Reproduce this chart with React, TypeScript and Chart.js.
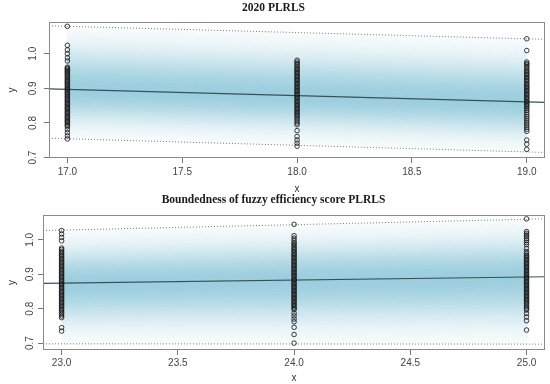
import React, { useEffect, useRef } from "react";
import { Chart, registerables } from "chart.js";

Chart.register(...registerables);

// ---------- data ----------
const topTitle = "2020 PLRLS";
const bottomTitle = "Boundedness of fuzzy efficiency score PLRLS";

const topColumnsX = [17, 18, 19];
const topCol17 = [
  1.079, 1.024, 1.011, 1.0, 0.988, 0.979,
  0.961, 0.958, 0.955, 0.951, 0.948, 0.944, 0.941, 0.937, 0.933, 0.93, 0.926, 0.922,
  0.919, 0.915, 0.912, 0.908, 0.904, 0.9, 0.897, 0.893, 0.889, 0.886, 0.882, 0.878,
  0.875, 0.871, 0.867, 0.864, 0.86, 0.856, 0.853, 0.849, 0.845, 0.842, 0.838, 0.834,
  0.83, 0.827, 0.823, 0.819, 0.816, 0.812, 0.808, 0.805, 0.801, 0.797, 0.793, 0.789,
  0.781, 0.772, 0.763, 0.754,
];
const topCol18 = [
  0.981, 0.976, 0.971, 0.967, 0.962, 0.958, 0.954, 0.95, 0.946, 0.942, 0.938, 0.934,
  0.93, 0.926, 0.922, 0.918, 0.914, 0.91, 0.906, 0.902, 0.898, 0.894, 0.89, 0.886,
  0.882, 0.878, 0.874, 0.87, 0.866, 0.862, 0.858, 0.854, 0.85, 0.846, 0.842, 0.838,
  0.834, 0.83, 0.826, 0.822, 0.817, 0.812, 0.806, 0.8, 0.795,
  0.778, 0.761, 0.751, 0.742, 0.733,
];
const topCol19 = [
  1.043, 1.009,
  0.976, 0.972, 0.968, 0.963, 0.958, 0.953, 0.948, 0.944, 0.94, 0.936, 0.931, 0.927,
  0.923, 0.919, 0.914, 0.91, 0.906, 0.902, 0.898, 0.894, 0.89, 0.886, 0.882, 0.878,
  0.874, 0.87, 0.866, 0.862, 0.858, 0.854, 0.85, 0.846, 0.841, 0.836, 0.83, 0.824,
  0.818, 0.812, 0.806, 0.8, 0.794, 0.788, 0.782, 0.776,
  0.751, 0.739, 0.724,
];
const topLineX = [16.92, 19.08];
const topFit = [0.8984, 0.8596];
const topUpper = [1.0805, 1.0415];
const topLower = [0.756, 0.715];
const topXRange = [16.92, 19.08];
const topYRange = [0.699, 1.092];

const bottomColumnsX = [23, 24, 25];
const bottomCol23 = [
  1.027, 1.017, 1.007, 0.997,
  0.976, 0.972, 0.967, 0.963, 0.958, 0.954, 0.95, 0.946, 0.942, 0.938, 0.934, 0.93,
  0.926, 0.922, 0.918, 0.914, 0.91, 0.906, 0.902, 0.898, 0.894, 0.89, 0.886, 0.882,
  0.878, 0.874, 0.87, 0.866, 0.862, 0.858, 0.854, 0.85, 0.846, 0.842, 0.838, 0.834,
  0.83, 0.826, 0.822, 0.818, 0.814, 0.81, 0.806, 0.802, 0.798, 0.794, 0.789, 0.784,
  0.779, 0.774, 0.745, 0.735,
];
const bottomCol24 = [
  1.045, 1.012, 1.005, 0.998,
  0.992, 0.988, 0.983, 0.978, 0.974, 0.97, 0.965, 0.961, 0.957, 0.953, 0.949, 0.945,
  0.941, 0.937, 0.933, 0.929, 0.925, 0.921, 0.917, 0.913, 0.909, 0.905, 0.901, 0.897,
  0.893, 0.889, 0.885, 0.881, 0.877, 0.873, 0.869, 0.865, 0.861, 0.857, 0.853, 0.849,
  0.845, 0.841, 0.837, 0.833, 0.829, 0.825, 0.821, 0.817, 0.813, 0.809, 0.805, 0.801,
  0.797, 0.787, 0.779, 0.77, 0.762, 0.746, 0.725, 0.7,
];
const bottomCol25 = [
  1.061, 1.024, 1.019, 1.014, 1.009, 1.003, 0.998, 0.992, 0.986, 0.975, 0.966, 0.96,
  0.955, 0.951, 0.947, 0.943, 0.939, 0.935, 0.931, 0.927, 0.923, 0.919, 0.915, 0.911,
  0.907, 0.903, 0.899, 0.895, 0.891, 0.887, 0.883, 0.879, 0.875, 0.871, 0.867, 0.863,
  0.859, 0.855, 0.851, 0.847, 0.843, 0.839, 0.835, 0.831, 0.827, 0.823, 0.819, 0.815,
  0.81, 0.805, 0.8, 0.796, 0.786, 0.776, 0.765, 0.738,
];
const bottomLineX = [22.92, 25.08];
const bottomFit = [0.8733, 0.8927];
const bottomUpper = [1.027, 1.061];
const bottomLower = [0.698, 0.697];
const bottomXRange = [22.92, 25.08];
const bottomYRange = [0.68, 1.0727];

// ---------- styling ----------
const SANS = "'Liberation Sans', Arial, sans-serif";
const SERIF = "'Liberation Serif', 'Times New Roman', serif";
const BAND_RGB = "156,206,222";

const bandPlugin = {
  id: "band",
  beforeDatasetsDraw(chart: any, _args: any, opts: any) {
    const { ctx, chartArea } = chart;
    const xs = chart.scales.x;
    const ys = chart.scales.y;
    const { lineX, fit, upper, lower, from, to } = opts;
    const interp = (arr: number[], v: number) =>
      arr[0] + ((arr[1] - arr[0]) * (v - lineX[0])) / (lineX[1] - lineX[0]);
    const p0 = Math.round(xs.getPixelForValue(from));
    const p1 = Math.round(xs.getPixelForValue(to));
    ctx.save();
    ctx.beginPath();
    ctx.rect(chartArea.left, chartArea.top, chartArea.width, chartArea.height);
    ctx.clip();
    for (let px = p0; px < p1; px += 2) {
      const v = xs.getValueForPixel(px + 1);
      const yf = ys.getPixelForValue(interp(fit, v));
      const yu = ys.getPixelForValue(interp(upper, v));
      const yl = ys.getPixelForValue(interp(lower, v));
      const g = ctx.createLinearGradient(0, yu, 0, yl);
      const mid = (yf - yu) / (yl - yu);
      const N = 14;
      for (let i = 0; i <= N; i++) {
        const t = i / N;
        const a = Math.exp(-2.6 * (1 - t) * (1 - t));
        g.addColorStop(mid * t, `rgba(${BAND_RGB},${a.toFixed(3)})`);
      }
      for (let i = 1; i <= N; i++) {
        const t = i / N;
        const a = Math.exp(-2.6 * t * t);
        g.addColorStop(mid + (1 - mid) * t, `rgba(${BAND_RGB},${a.toFixed(3)})`);
      }
      ctx.fillStyle = g;
      ctx.fillRect(px, yu, 2, yl - yu);
    }
    ctx.restore();
  },
};

const boxPlugin = {
  id: "box",
  afterDraw(chart: any) {
    const { ctx, chartArea } = chart;
    ctx.save();
    ctx.strokeStyle = "#8a8a8a";
    ctx.lineWidth = 1;
    ctx.strokeRect(
      Math.round(chartArea.left) + 0.5,
      Math.round(chartArea.top) + 0.5,
      Math.round(chartArea.width) - 1,
      Math.round(chartArea.height) - 1
    );
    ctx.restore();
  },
};

type Spec = {
  title: string;
  columnsX: number[];
  columns: number[][];
  lineX: number[];
  fit: number[];
  upper: number[];
  lower: number[];
  xRange: number[];
  yRange: number[];
  height: number;
  yAxisWidth: number;
  yTickPad: number;
  xAxisHeight: number;
  xTickPad: number;
  xTitlePad: number;
  titlePad: { top: number; bottom: number };
};

function buildConfig(s: Spec): any {
  const pointSets = s.columns.map((col, i) => ({
    data: col.map((y) => ({ x: s.columnsX[i], y })),
    pointRadius: 2.3,
    pointBorderWidth: 0.85,
    pointBorderColor: "#1a1a1a",
    pointBackgroundColor: "rgba(0,0,0,0)",
    showLine: false,
  }));
  const lineSet = (vals: number[], color: string, width: number, dash: number[]) => ({
    data: s.lineX.map((x, i) => ({ x, y: vals[i] })),
    showLine: true,
    pointRadius: 0,
    borderColor: color,
    borderWidth: width,
    borderDash: dash,
  });
  return {
    type: "scatter",
    data: {
      datasets: [
        ...pointSets,
        lineSet(s.fit, "#35525c", 1.2, []),
        lineSet(s.upper, "#7a7a7a", 1, [1, 2]),
        lineSet(s.lower, "#7a7a7a", 1, [1, 2]),
      ],
    },
    options: {
      animation: false,
      responsive: false,
      devicePixelRatio: 1,
      events: [],
      layout: { padding: { left: 0, right: 3, top: 0, bottom: 0 } },
      plugins: {
        legend: { display: false },
        tooltip: { enabled: false },
        title: {
          display: true,
          text: s.title,
          color: "#1a1a1a",
          font: { family: SERIF, size: 11.5, weight: "bold" },
          padding: s.titlePad,
        },
        band: {
          lineX: s.lineX,
          fit: s.fit,
          upper: s.upper,
          lower: s.lower,
          from: s.columnsX[0],
          to: s.columnsX[s.columnsX.length - 1],
        },
      },
      scales: {
        x: {
          type: "linear",
          position: "bottom",
          min: s.xRange[0],
          max: s.xRange[1],
          afterFit: (sc: any) => {
            sc.height = s.xAxisHeight;
          },
          ticks: {
            stepSize: 0.5,
            includeBounds: false,
            maxRotation: 0,
            padding: s.xTickPad,
            color: "#444",
            font: { family: SANS, size: 10 },
            callback: (v: any) => Number(v).toFixed(1),
          },
          grid: { drawOnChartArea: false, drawTicks: true, tickLength: 5, color: "#777" },
          border: { display: false },
          title: {
            display: true,
            text: "x",
            color: "#333",
            font: { family: SANS, size: 10 },
            padding: { top: 0, bottom: s.xTitlePad },
          },
        },
        y: {
          type: "linear",
          position: "left",
          min: s.yRange[0],
          max: s.yRange[1],
          afterFit: (sc: any) => {
            sc.width = s.yAxisWidth;
          },
          ticks: {
            stepSize: 0.1,
            includeBounds: false,
            minRotation: 90,
            maxRotation: 90,
            crossAlign: "center",
            padding: s.yTickPad,
            color: "#444",
            font: { family: SANS, size: 10 },
            callback: (v: any) => Number(v).toFixed(1),
          },
          grid: { drawOnChartArea: false, drawTicks: true, tickLength: 5, color: "#777" },
          border: { display: false },
          title: {
            display: true,
            text: "y",
            color: "#333",
            font: { family: SANS, size: 10 },
            padding: { top: 6, bottom: 0 },
          },
        },
      },
    },
    plugins: [bandPlugin, boxPlugin],
  };
}

const topSpec: Spec = {
  title: topTitle,
  columnsX: topColumnsX,
  columns: [topCol17, topCol18, topCol19],
  lineX: topLineX,
  fit: topFit,
  upper: topUpper,
  lower: topLower,
  xRange: topXRange,
  yRange: topYRange,
  height: 200,
  yAxisWidth: 49,
  yTickPad: 4,
  xAxisHeight: 42,
  xTickPad: 3,
  xTitlePad: 5,
  titlePad: { top: 1, bottom: 7 },
};

const bottomSpec: Spec = {
  title: bottomTitle,
  columnsX: bottomColumnsX,
  columns: [bottomCol23, bottomCol24, bottomCol25],
  lineX: bottomLineX,
  fit: bottomFit,
  upper: bottomUpper,
  lower: bottomLower,
  xRange: bottomXRange,
  yRange: bottomYRange,
  height: 192,
  yAxisWidth: 43,
  yTickPad: 1,
  xAxisHeight: 34,
  xTickPad: 2,
  xTitlePad: 0,
  titlePad: { top: 1, bottom: 8 },
};

function Panel({ spec, top }: { spec: Spec; top: number }) {
  const ref = useRef<HTMLCanvasElement>(null);
  useEffect(() => {
    const chart = new Chart(ref.current as HTMLCanvasElement, buildConfig(spec));
    return () => chart.destroy();
  }, [spec]);
  return (
    <canvas
      ref={ref}
      width={550}
      height={spec.height}
      style={{ position: "absolute", left: 0, top, width: 550, height: spec.height }}
    />
  );
}

export default function App() {
  return (
    <div
      style={{
        position: "fixed",
        left: 0,
        top: 0,
        width: 550,
        height: 384,
        background: "#ffffff",
        overflow: "hidden",
      }}
    >
      <Panel spec={topSpec} top={0} />
      <Panel spec={bottomSpec} top={192} />
    </div>
  );
}
